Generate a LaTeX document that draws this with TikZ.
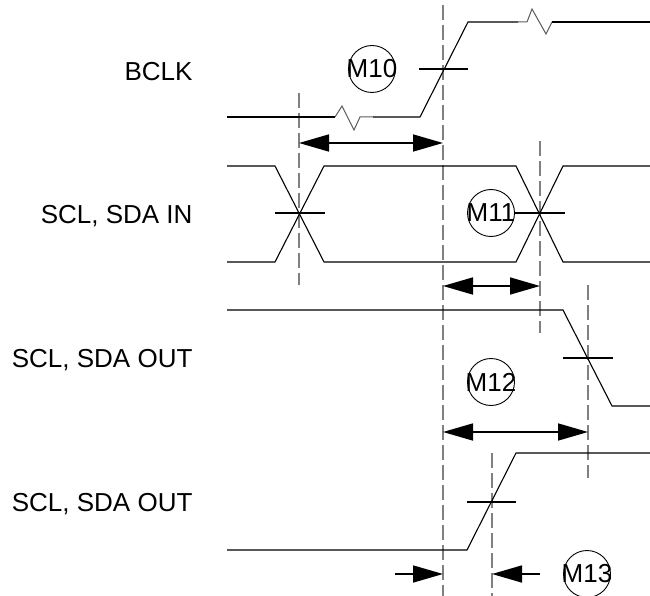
\documentclass[tikz,border=0pt]{standalone}
\usepackage{fontspec}
\setmainfont{Liberation Sans}
\usetikzlibrary{arrows.meta}

\begin{document}
\begin{tikzpicture}[x=1pt, y=-1pt, every node/.style={font=\fontsize{26}{30}\selectfont}]
    % Define colors
    \definecolor{guidegray}{RGB}{128,128,128}
    \definecolor{breakgray}{RGB}{90,90,90}

    \tikzset{
        guide/.style={guidegray, line width=1.3pt, dash pattern=on 15pt off 5pt},
        signal/.style={black, line width=1.1pt, line join=miter},
        crosstick/.style={black, line width=1.5pt},
        dimarrow/.style={black, line width=1.6pt},
        bigtip/.tip={Triangle[length=30pt,width=17pt]},
        marker/.style={circle, draw, line width=0.9pt, minimum size=47pt, inner sep=0pt}
    }

    \useasboundingbox (0,0) rectangle (650,596);

    % Signal names
    \node[anchor=east] (bclk) at (196,72) {BCLK};
    \node[anchor=east] (sdain) at (196,216) {SCL, SDA IN};
    \node[anchor=east] (sdaout) at (196,360) {SCL, SDA OUT};
    \node[anchor=east] (sdaoutb) at (196,504) {SCL, SDA OUT};

    % Timing guides
    \coordinate (t1top) at (299,93);   \coordinate (t1bot) at (299,285);
    \coordinate (t2top) at (443,5);    \coordinate (t2bot) at (443,596);
    \coordinate (t3top) at (540,141);  \coordinate (t3bot) at (540,333);
    \coordinate (t4top) at (588,285);  \coordinate (t4bot) at (588,478);
    \coordinate (t5top) at (492,453);  \coordinate (t5bot) at (492,596);
    \draw[guide] (t1top) -- (t1bot);
    \draw[guide] (t2top) -- (t2bot);
    \draw[guide] (t3top) -- (t3bot);
    \draw[guide] (t4top) -- (t4bot);
    \draw[guide] (t5top) -- (t5bot);

    % BCLK with breaks
    \draw[signal] (227,117) -- (335,117);
    \draw[breakgray, line width=1pt] (335,117) -- (342,106) -- (354,130) -- (360,117) -- (373,117);
    \draw[signal] (373,117) -- (420,117) -- (468,22) -- (518,22);
    \draw[breakgray, line width=1pt] (518,22) -- (527,22) -- (532,9) -- (546,34) -- (552,22);
    \draw[signal] (552,22) -- (650,22);
    \draw[crosstick] (419,69) -- (468,69);

    % SCL, SDA IN
    \draw[signal] (227,166) -- (275,166) -- (324,262) -- (516,262) -- (563,166) -- (650,166);
    \draw[signal] (227,262) -- (275,262) -- (324,166) -- (516,166) -- (563,262) -- (650,262);
    \draw[crosstick] (275,213) -- (325,213);
    \draw[crosstick] (515,213) -- (565,213);

    % SCL, SDA OUT falling
    \draw[signal] (227,310) -- (563,310) -- (612,406) -- (650,406);
    \draw[crosstick] (563,358) -- (613,358);

    % SCL, SDA OUT rising
    \draw[signal] (227,550) -- (467,550) -- (516,453) -- (650,453);
    \draw[crosstick] (467,502) -- (516,502);

    % Markers
    \node[marker] (m10) at (372,69) {\makebox[0pt]{M10}};
    \node[marker] (m11) at (491,213) {\makebox[0pt]{M11}};
    \node[marker] (m12) at (491,382) {\makebox[0pt]{M12}};
    \node[marker] (m13) at (587,574) {\makebox[0pt]{M13}};

    % Dimension arrows
    \coordinate (d10a) at (299,143);  \coordinate (d10b) at (443,143);
    \coordinate (d11a) at (443,286);  \coordinate (d11b) at (540,286);
    \coordinate (d12a) at (443,432);  \coordinate (d12b) at (588,432);
    \coordinate (d13a) at (395,574);  \coordinate (d13b) at (443,574);
    \coordinate (d13c) at (540,574);  \coordinate (d13d) at (492,574);
    \draw[dimarrow, bigtip-bigtip] (d10a) -- (d10b);
    \draw[dimarrow, bigtip-bigtip] (d11a) -- (d11b);
    \draw[dimarrow, bigtip-bigtip] (d12a) -- (d12b);
    \draw[dimarrow, -bigtip] (d13a) -- (d13b);
    \draw[dimarrow, -bigtip] (d13c) -- (d13d);
\end{tikzpicture}
\end{document}
